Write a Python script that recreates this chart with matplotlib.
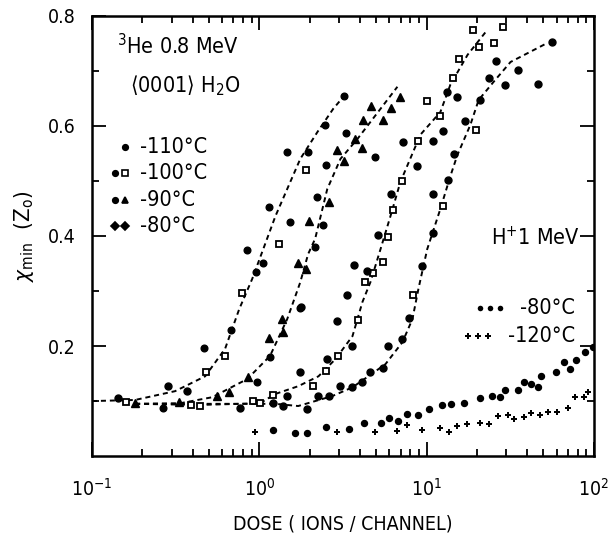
import matplotlib
matplotlib.use("Agg")
import matplotlib.pyplot as plt
from matplotlib.ticker import FixedLocator, NullFormatter

plt.rcParams["font.family"] = ["DejaVu Sans"]
plt.rcParams["font.stretch"] = "condensed"

# 3He 0.8 MeV, <0001> H2O -- measured points
he110_x = [0.266, 0.469, 0.679, 0.847, 0.959, 0.973, 1.06, 1.15, 1.16, 1.47, 1.53, 1.76,
           1.96, 2.16, 2.22, 2.42, 2.48, 2.52, 3.23, 3.32, 4.95]
he110_y = [0.087, 0.196, 0.229, 0.375, 0.335, 0.135, 0.351, 0.453, 0.180, 0.553, 0.425, 0.269,
           0.553, 0.380, 0.471, 0.420, 0.602, 0.529, 0.655, 0.587, 0.544]

he100_x = [0.160, 0.392, 0.444, 0.482, 0.625, 0.791, 0.920, 1.01, 1.21, 1.32, 1.91, 2.10,
           2.52, 2.97, 3.92, 4.31, 4.82, 5.46, 5.92, 6.34, 7.18, 8.36, 8.95, 10.1,
           12.0, 12.6, 14.5, 15.6, 18.9, 19.9, 20.5, 25.2, 28.5]
he100_y = [0.098, 0.093, 0.091, 0.153, 0.182, 0.296, 0.100, 0.096, 0.111, 0.385, 0.520, 0.127,
           0.155, 0.182, 0.247, 0.316, 0.333, 0.353, 0.398, 0.447, 0.500, 0.293, 0.573, 0.645,
           0.618, 0.455, 0.687, 0.722, 0.775, 0.593, 0.744, 0.751, 0.780]

he90_x = [0.181, 0.332, 0.561, 0.661, 0.859, 1.15, 1.39, 1.37, 1.71, 1.91, 1.99, 2.62,
          2.93, 3.23, 3.76, 4.14, 4.20, 4.69, 5.53, 6.17, 6.98]
he90_y = [0.096, 0.098, 0.109, 0.116, 0.144, 0.215, 0.225, 0.249, 0.351, 0.340, 0.427, 0.462,
          0.556, 0.536, 0.576, 0.560, 0.611, 0.636, 0.611, 0.633, 0.653]

he80_x = [0.143, 0.285, 0.371, 0.769, 1.21, 1.39, 1.47, 1.78, 1.76, 1.94, 2.25, 2.55,
          2.62, 2.93, 3.05, 3.37, 3.61, 3.61, 3.71, 4.14, 4.43, 4.62, 5.16, 5.46,
          5.92, 6.17, 7.18, 7.28, 7.91, 8.83, 9.46, 10.9, 10.9, 11.0, 12.6, 13.2,
          13.4, 14.7, 15.3, 16.9, 20.8, 23.5, 26.2, 29.3, 35.1, 46.2, 56.1]
he80_y = [0.105, 0.127, 0.118, 0.087, 0.096, 0.091, 0.109, 0.271, 0.153, 0.085, 0.109, 0.176,
          0.109, 0.245, 0.127, 0.293, 0.200, 0.125, 0.347, 0.135, 0.336, 0.153, 0.402, 0.160,
          0.200, 0.476, 0.213, 0.571, 0.251, 0.527, 0.345, 0.476, 0.573, 0.405, 0.591, 0.662,
          0.502, 0.549, 0.653, 0.609, 0.647, 0.687, 0.718, 0.675, 0.702, 0.676, 0.753]

# hand drawn guide curves
fit1_x = [0.1, 0.181, 0.314, 0.475, 0.625, 0.759, 0.908, 1.25, 1.76, 2.23, 2.77, 3.23]
fit1_y = [0.100, 0.102, 0.118, 0.145, 0.195, 0.267, 0.322, 0.436, 0.540, 0.589, 0.631, 0.655]

fit2_x = [0.181, 0.336, 0.524, 0.848, 1.16, 1.47, 1.76, 1.96, 2.16, 2.55, 3.06, 3.86, 4.62, 6.7]
fit2_y = [0.095, 0.096, 0.107, 0.140, 0.182, 0.249, 0.316, 0.367, 0.395, 0.485, 0.540, 0.576,
          0.607, 0.671]

fit3_x = [0.181, 0.444, 1.01, 1.25, 1.71, 2.26, 2.85, 3.61, 4.14, 4.62, 5.31, 6.09, 6.98,
          9.2, 12.1, 13.9, 17.6, 23.2]
fit3_y = [0.095, 0.093, 0.096, 0.113, 0.127, 0.145, 0.176, 0.218, 0.280, 0.316, 0.376, 0.436,
          0.498, 0.584, 0.625, 0.675, 0.729, 0.775]

fit4_x = [0.181, 1.25, 1.71, 2.16, 2.73, 3.61, 4.49, 5.68, 7.18, 8.24, 8.95, 10.1, 12.1,
          13.9, 15.3, 18.3, 20.5, 25.2, 31.8, 51.6]
fit4_y = [0.095, 0.095, 0.091, 0.100, 0.109, 0.125, 0.145, 0.167, 0.207, 0.249, 0.304, 0.376,
          0.449, 0.509, 0.547, 0.602, 0.647, 0.680, 0.716, 0.749]

# H+ 1 MeV
h80_x = [1.21, 1.64, 1.94, 2.52, 3.46, 4.25, 5.38, 6.00, 6.80, 7.69, 8.95, 10.3, 12.3, 14.1,
         16.7, 20.8, 24.5, 27.4, 29.3, 35.1, 38.1, 42.0, 46.2, 48.2, 59.2, 66.1, 71.8, 78.0,
         88.3, 98.6]
h80_y = [0.047, 0.042, 0.042, 0.053, 0.049, 0.060, 0.060, 0.069, 0.064, 0.076, 0.075, 0.085,
         0.093, 0.095, 0.096, 0.105, 0.109, 0.107, 0.120, 0.120, 0.135, 0.131, 0.125, 0.145,
         0.153, 0.171, 0.158, 0.175, 0.189, 0.198]

h120_x = [0.946, 2.93, 4.95, 6.70, 7.69, 9.46, 12.1, 13.6, 15.3, 17.4, 21.0, 23.8, 26.6, 30.5,
          33.2, 38.1, 42.0, 47.5, 53.1, 60.0, 69.8, 76.9, 87.1, 92.1]
h120_y = [0.044, 0.044, 0.044, 0.045, 0.056, 0.047, 0.051, 0.044, 0.055, 0.058, 0.060, 0.058,
          0.073, 0.075, 0.067, 0.071, 0.078, 0.075, 0.080, 0.080, 0.087, 0.107, 0.107, 0.116]

fig = plt.figure(figsize=(6.09, 5.43), dpi=100)
ax = fig.add_axes([0.151, 0.160, 0.824, 0.811])

dash = dict(color="black", lw=1.4, ls=(0, (2.6, 2.0)))
for fx, fy in [(fit1_x, fit1_y), (fit2_x, fit2_y), (fit3_x, fit3_y), (fit4_x, fit4_y)]:
    ax.plot(fx, fy, **dash)

ax.plot(he110_x, he110_y, "o", color="black", ms=4.8, ls="none")
ax.plot(he100_x, he100_y, "s", mfc="white", mec="black", mew=1.3, ms=4.2, ls="none")
ax.plot(he90_x, he90_y, "^", color="black", ms=5.2, ls="none")
ax.plot(he80_x, he80_y, "o", color="black", ms=5, ls="none")
ax.plot(h80_x, h80_y, "o", color="black", ms=4.3, ls="none")
ax.plot(h120_x, h120_y, "P", color="black", ms=5, mew=0, ls="none")

ax.set_xscale("log")
ax.set_xlim(0.1, 100)
ax.set_ylim(0, 0.8)
ax.set_yticks([0.2, 0.4, 0.6, 0.8])
ax.set_yticklabels(["0.2", "0.4", "0.6", "0.8"])
ax.yaxis.set_minor_locator(FixedLocator([0.1, 0.3, 0.5, 0.7]))
ax.set_xticks([0.1, 1, 10, 100])
ax.set_xticklabels([r"$10^{-1}$", r"$10^{0}$", r"$10^{1}$", r"$10^{2}$"])
ax.xaxis.set_minor_formatter(NullFormatter())

ax.tick_params(which="both", direction="in", top=True, right=True, width=1.3, labelsize=14)
ax.tick_params(which="major", length=10)
ax.tick_params(which="minor", length=5)
ax.tick_params(axis="x", which="major", pad=16)
ax.tick_params(axis="y", which="major", pad=12)
for sp in ax.spines.values():
    sp.set_linewidth(1.8)

ax.set_xlabel("DOSE ( IONS / CHANNEL)", fontsize=14, labelpad=10)
ax.set_ylabel(r"$\chi_{\rm min}$  (Z$_{\rm o}$)", fontsize=16, labelpad=8)

# annotations in the plot
ax.text(0.05, 0.96, r"$^{3}$He 0.8 MeV", transform=ax.transAxes, fontsize=15.5, va="top")
ax.text(0.075, 0.868, r"$\langle$0001$\rangle$ H$_2$O", transform=ax.transAxes, fontsize=15.5, va="top")

rows = [("-110°C", [("o", "black")]),
        ("-100°C", [("o", "black"), ("s", "white")]),
        ("-90°C", [("o", "black"), ("^", "black")]),
        ("-80°C", [("D", "black"), ("D", "black")])]
for i, (lab, mks) in enumerate(rows):
    yy = 0.703 - i * 0.0605
    for j, (m, fc) in enumerate(mks):
        xx = 0.066 - (len(mks) - 1 - j) * 0.021
        ax.plot(xx, yy, m, mfc=fc, mec="black", mew=1.2, ms=4, transform=ax.transAxes, clip_on=False)
    ax.text(0.095, yy, lab, transform=ax.transAxes, fontsize=15.5, va="center")

ax.text(0.972, 0.497, r"H$^{+}$1 MeV", transform=ax.transAxes, fontsize=15.5, va="center", ha="right")
for i, (lab, m, x0) in enumerate([("-80°C", "o", 0.773), ("-120°C", "P", 0.749)]):
    yy = 0.336 - i * 0.063
    for k in range(3):
        ax.plot(x0 + k * 0.02, yy, m, color="black", ms=4, mew=0, transform=ax.transAxes)
    ax.text(0.962, yy, lab, transform=ax.transAxes, fontsize=15.5, va="center", ha="right")

fig.savefig("out.png", dpi=100)
